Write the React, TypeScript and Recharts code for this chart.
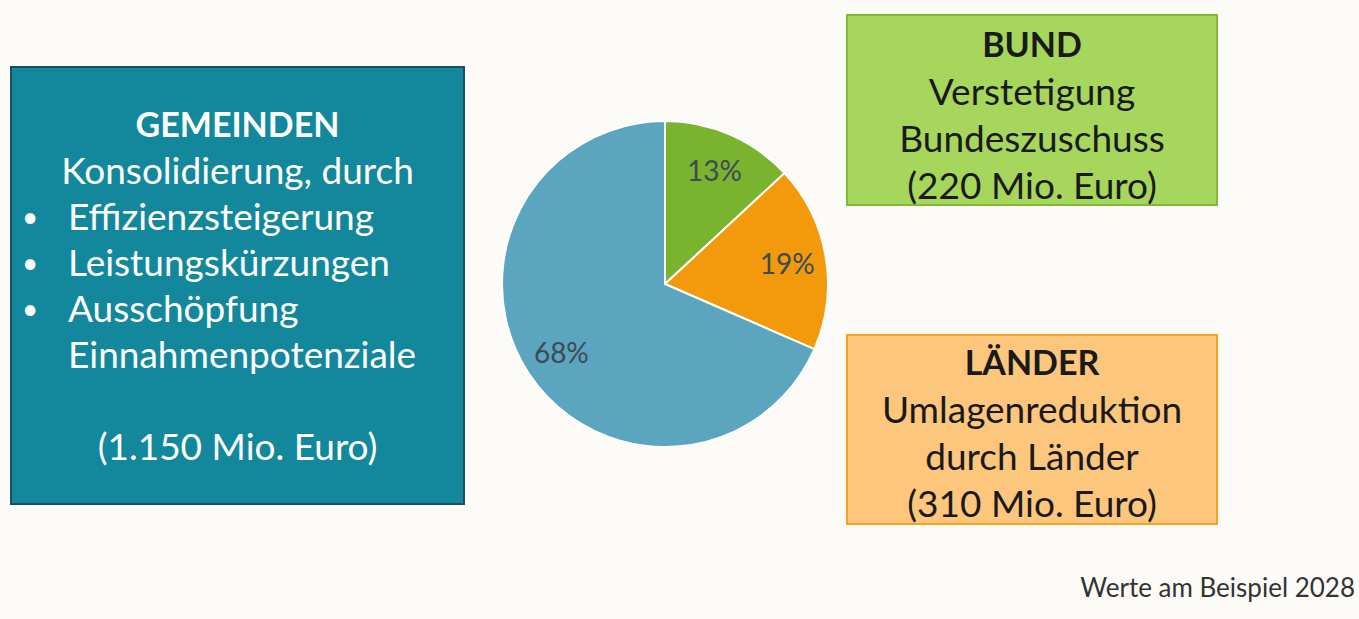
import { PieChart, Pie, Cell } from "recharts";

const categories = ["Bund", "Länder", "Gemeinden"];
const values = [220, 310, 1150];
const sliceLabels = ["13%", "19%", "68%"];
const sliceColors = ["#7AB32E", "#F29A0C", "#5BA5BF"];

const gemeindenLines = ["Konsolidierung, durch"];
const gemeindenBullets = ["Effizienzsteigerung", "Leistungskürzungen", "Ausschöpfung"];
const gemeindenTail = "Einnahmenpotenziale";
const gemeindenAmount = "(1.150 Mio. Euro)";
const bundLines = ["Verstetigung", "Bundeszuschuss", "(220 Mio. Euro)"];
const laenderLines = ["Umlagenreduktion", "durch Länder", "(310 Mio. Euro)"];
const footnote = "Werte am Beispiel 2028";

const data = categories.map((name, i) => ({ name, value: values[i], label: sliceLabels[i] }));

const FONT = "Lato, 'Open Sans', sans-serif";
const RAD = Math.PI / 180;

function renderLabel(props: any) {
  const { cx, cy, midAngle, outerRadius, index } = props;
  const r = outerRadius * 0.76;
  const x = cx + r * Math.cos(-midAngle * RAD);
  const y = cy + r * Math.sin(-midAngle * RAD);
  return (
    <text
      x={x}
      y={y}
      fill="#3E4A55"
      fontSize={28}
      fontFamily={FONT}
      textAnchor="middle"
      dominantBaseline="central"
    >
      {sliceLabels[index]}
    </text>
  );
}

const line = (h: number) => ({ height: h, lineHeight: `${h}px`, whiteSpace: "nowrap" as const });

export default function App() {
  return (
    <div
      style={{
        position: "relative",
        width: 1359,
        height: 619,
        background: "#FDFBF7",
        fontFamily: FONT,
        overflow: "hidden",
      }}
    >
      <style>{"body{margin:0}"}</style>

      <div style={{ position: "absolute", left: 0, top: 0 }}>
        <PieChart width={1359} height={619} margin={{ top: 0, right: 0, bottom: 0, left: 0 }}>
          <Pie
            data={data}
            dataKey="value"
            nameKey="name"
            cx={665}
            cy={284}
            outerRadius={163}
            startAngle={90}
            endAngle={-270}
            stroke="#FFFFFF"
            strokeWidth={2}
            label={renderLabel}
            labelLine={false}
            isAnimationActive={false}
          >
            {data.map((d, i) => (
              <Cell key={d.name} fill={sliceColors[i]} />
            ))}
          </Pie>
        </PieChart>
      </div>

      {/* GEMEINDEN */}
      <div
        style={{
          position: "absolute",
          left: 10,
          top: 66,
          width: 455,
          height: 439,
          boxSizing: "border-box",
          background: "#13889C",
          border: "2px solid #1A4F5B",
          color: "#FFFFFF",
          fontSize: 37,
          paddingTop: 33,
        }}
      >
        <div style={{ ...line(46), textAlign: "center", fontWeight: 700, fontSize: 34 }}>GEMEINDEN</div>
        {gemeindenLines.map((t) => (
          <div key={t} style={{ ...line(46), textAlign: "center" }}>{t}</div>
        ))}
        {gemeindenBullets.map((t) => (
          <div key={t} style={{ ...line(46), position: "relative", paddingLeft: 56 }}>
            <span style={{ position: "absolute", left: 10, fontSize: 28 }}>•</span>
            {t}
          </div>
        ))}
        <div style={{ ...line(46), paddingLeft: 56 }}>{gemeindenTail}</div>
        <div style={line(46)} />
        <div style={{ ...line(46), textAlign: "center" }}>{gemeindenAmount}</div>
      </div>

      {/* BUND */}
      <div
        style={{
          position: "absolute",
          left: 846,
          top: 14,
          width: 372,
          height: 192,
          boxSizing: "border-box",
          background: "#A6D65C",
          border: "2px solid #7DBD35",
          color: "#1A1A1A",
          fontSize: 37,
          textAlign: "center",
          paddingTop: 4,
        }}
      >
        <div style={{ ...line(47), fontWeight: 700, fontSize: 34 }}>BUND</div>
        {bundLines.map((t) => (
          <div key={t} style={line(47)}>{t}</div>
        ))}
      </div>

      {/* LÄNDER */}
      <div
        style={{
          position: "absolute",
          left: 846,
          top: 334,
          width: 372,
          height: 191,
          boxSizing: "border-box",
          background: "#FCC77D",
          border: "2px solid #F5A224",
          color: "#1A1A1A",
          fontSize: 37,
          textAlign: "center",
          paddingTop: 2,
        }}
      >
        <div style={{ ...line(47), fontWeight: 700, fontSize: 34 }}>LÄNDER</div>
        {laenderLines.map((t) => (
          <div key={t} style={line(47)}>{t}</div>
        ))}
      </div>

      <div
        style={{
          position: "absolute",
          right: 4,
          top: 571,
          fontSize: 26,
          color: "#333333",
          whiteSpace: "nowrap",
        }}
      >
        {footnote}
      </div>
    </div>
  );
}
